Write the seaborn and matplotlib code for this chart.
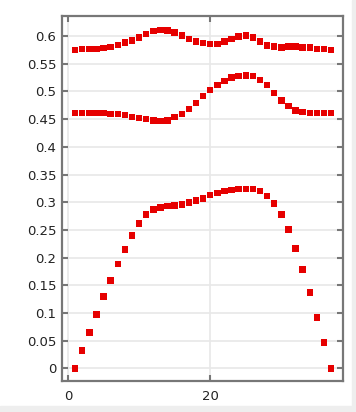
import numpy as np
import pandas as pd
import matplotlib.pyplot as plt
import seaborn as sns
from matplotlib.patches import Rectangle

sns.set_style('whitegrid')
plt.rcParams['font.family'] = ['DejaVu Sans']

# values
x = list(range(1, 38))
upper = [0.575, 0.5765, 0.5765, 0.5765, 0.578, 0.580, 0.584, 0.588, 0.592, 0.597,
         0.604, 0.609, 0.611, 0.610, 0.606, 0.601, 0.595, 0.590, 0.587, 0.586,
         0.586, 0.590, 0.595, 0.599, 0.601, 0.597, 0.590, 0.583, 0.581, 0.579,
         0.581, 0.581, 0.579, 0.579, 0.577, 0.577, 0.575]
middle = [0.4614, 0.4614, 0.4614, 0.4614, 0.4614, 0.4596, 0.4596, 0.4572, 0.4542, 0.4518,
          0.450, 0.448, 0.447, 0.448, 0.4536, 0.459, 0.468, 0.4795, 0.4916, 0.5024,
          0.5114, 0.519, 0.5247, 0.5277, 0.5283, 0.5277, 0.521, 0.512, 0.497, 0.484,
          0.474, 0.466, 0.463, 0.4614, 0.4614, 0.4614, 0.4614]
lower = [0.0, 0.0325, 0.065, 0.0976, 0.130, 0.159, 0.189, 0.2145, 0.240, 0.262,
         0.278, 0.287, 0.291, 0.293, 0.2945, 0.2964, 0.300, 0.3036, 0.3067, 0.3127,
         0.3164, 0.320, 0.3218, 0.3236, 0.3236, 0.3236, 0.320, 0.311, 0.298, 0.278,
         0.251, 0.2164, 0.179, 0.1373, 0.092, 0.047, 0.0]
y_ticks = [0, 0.05, 0.1, 0.15, 0.2, 0.25, 0.3, 0.35, 0.4, 0.45, 0.5, 0.55, 0.6]
y_labels = ['0', '0.05', '0.1', '0.15', '0.2', '0.25', '0.3', '0.35', '0.4', '0.45', '0.5', '0.55', '0.6']
x_ticks = [0, 20]

df = pd.concat([
    pd.DataFrame({'x': x, 'y': upper, 'series': 'upper'}),
    pd.DataFrame({'x': x, 'y': middle, 'series': 'middle'}),
    pd.DataFrame({'x': x, 'y': lower, 'series': 'lower'}),
])

fig = plt.figure(figsize=(3.56, 4.12), dpi=100)
fig.patches.append(Rectangle((352/356, 0), 4/356, 1, transform=fig.transFigure,
                             color='#eeeeee', zorder=0))
fig.patches.append(Rectangle((0, 0), 1, 6/412, transform=fig.transFigure,
                             color='#eeeeee', zorder=0))
ax = fig.add_axes([0.174, 0.076, 0.79, 0.885])

sns.scatterplot(data=df, x='x', y='y', hue='series', palette=['#e60000'] * 3,
                marker='s', s=22, linewidth=0, legend=False, ax=ax, zorder=3)

ax.set_xlim(-0.85, 38.7)
ax.set_ylim(-0.022, 0.636)
ax.set_xticks(x_ticks)
ax.set_yticks(y_ticks)
ax.set_yticklabels(y_labels)
ax.set_xlabel('')
ax.set_ylabel('')
ax.grid(True, color='#e8e8e8', linewidth=1.2)
for sp in ax.spines.values():
    sp.set_visible(True)
    sp.set_color('#777777')
    sp.set_linewidth(1.6)
ax.tick_params(axis='both', direction='in', length=4, width=1.5, color='#777777',
               labelsize=9.5, labelcolor='#222222', left=True, right=True, bottom=True, top=True)
ax.tick_params(axis='y', pad=4)
ax.tick_params(axis='x', pad=7)

fig.savefig('out.png', dpi=100)
